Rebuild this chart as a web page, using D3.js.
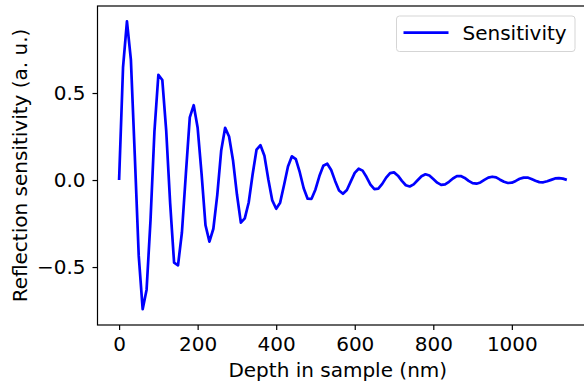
<!DOCTYPE html>
<html>
  <head>
    <meta charset="utf-8" />
    <script src="https://d3js.org/d3.v7.min.js"></script>
    <style>
      body {
        margin: 0;
        background: #fff;
        overflow: hidden;
      }
      text {
        font-family: "DejaVu Sans", sans-serif;
        fill: #000;
      }
    </style>
  </head>
  <body>
    <svg id="chart" width="584" height="383"></svg>

    <script>
      // depth samples (nm) and the sensitivity
      const depth = [
        0, 10, 20, 30, 40, 50, 60, 70, 80, 90, 100, 110, 120, 130, 140, 150,
        160, 170, 180, 190, 200, 210, 220, 230, 240, 250, 260, 270, 280, 290,
        300, 310, 320, 330, 340, 350, 360, 370, 380, 390, 400, 410, 420, 430,
        440, 450, 460, 470, 480, 490, 500, 510, 520, 530, 540, 550, 560, 570,
        580, 590, 600, 610, 620, 630, 640, 650, 660, 670, 680, 690, 700, 710,
        720, 730, 740, 750, 760, 770, 780, 790, 800, 810, 820, 830, 840, 850,
        860, 870, 880, 890, 900, 910, 920, 930, 940, 950, 960, 970, 980, 990,
        1000, 1010, 1020, 1030, 1040, 1050, 1060, 1070, 1080, 1090, 1100,
        1110, 1120, 1130, 1140,
      ];
      const sensitivity = [
        0, 0.647, 0.912, 0.692, 0.139, -0.436, -0.742, -0.63, -0.23, 0.28,
        0.605, 0.575, 0.282, -0.134, -0.475, -0.49, -0.3, 0.035, 0.36, 0.43,
        0.3, 0.036, -0.26, -0.354, -0.28, -0.085, 0.17, 0.3, 0.25, 0.114,
        -0.082, -0.245, -0.22, -0.129, 0.033, 0.175, 0.2, 0.14, 0.003, -0.117,
        -0.165, -0.13, -0.029, 0.078, 0.136, 0.12, 0.045, -0.047, -0.107,
        -0.108, -0.054, 0.023, 0.082, 0.094, 0.058, -0.005, -0.06, -0.079,
        -0.057, -0.008, 0.041, 0.065, 0.054, 0.017, -0.026, -0.052, -0.049,
        -0.022, 0.014, 0.04, 0.044, 0.025, -0.005, -0.03, -0.037, -0.025,
        -0.001, 0.022, 0.033, 0.026, 0.006, -0.015, -0.028, -0.025, -0.01,
        0.009, 0.022, 0.023, 0.012, -0.005, -0.018, -0.021, -0.014, 0.001,
        0.014, 0.019, 0.015, 0.002, -0.01, -0.017, -0.015, -0.005, 0.007,
        0.014, 0.014, 0.006, -0.004, -0.012, -0.013, -0.007, 0.001, 0.009,
        0.011, 0.008, 0.001,
      ];
      const xTicks = [0, 200, 400, 600, 800, 1000];
      const yTicks = [-0.5, 0.0, 0.5];

      const svg = d3.select("#chart");
      const box = { left: 97.5, top: 6, right: 590, bottom: 325 };

      const x = d3
        .scaleLinear()
        .domain([-55, 1199])
        .range([box.left, box.right]);
      const y = d3
        .scaleLinear()
        .domain([-0.833, 1.0])
        .range([box.bottom, box.top]);

      // axes
      const xAxis = d3
        .axisBottom(x)
        .tickValues(xTicks)
        .tickSize(5)
        .tickPadding(7)
        .tickFormat(d3.format("d"));
      const yAxis = d3
        .axisLeft(y)
        .tickValues(yTicks)
        .tickSize(5)
        .tickPadding(7)
        .tickFormat((d) => (d < 0 ? "\u2212" : "") + Math.abs(d).toFixed(1));

      const gx = svg
        .append("g")
        .attr("transform", `translate(0,${box.bottom})`)
        .call(xAxis);
      const gy = svg
        .append("g")
        .attr("transform", `translate(${box.left},0)`)
        .call(yAxis);
      [gx, gy].forEach((g) => {
        g.select(".domain").remove();
        g.selectAll("line").attr("stroke", "#000").attr("stroke-width", 1.2);
        g.selectAll("text")
          .attr("font-size", 20)
          .attr("font-family", "DejaVu Sans")
          .attr("fill", "#000");
      });

      // the data line
      const line = d3
        .line()
        .x((d, i) => x(depth[i]))
        .y((d) => y(d));
      svg
        .append("path")
        .datum(sensitivity)
        .attr("fill", "none")
        .attr("stroke", "#0000ff")
        .attr("stroke-width", 2.7)
        .attr("stroke-linejoin", "round")
        .attr("d", line);

      // frame
      svg
        .append("rect")
        .attr("x", box.left)
        .attr("y", box.top)
        .attr("width", box.right - box.left)
        .attr("height", box.bottom - box.top)
        .attr("fill", "none")
        .attr("stroke", "#000")
        .attr("stroke-width", 1.2);

      // labels
      svg
        .append("text")
        .attr("x", (box.left + box.right) / 2 - 6)
        .attr("y", 377)
        .attr("text-anchor", "middle")
        .attr("font-size", 20)
        .text("Depth in sample (nm)");
      svg
        .append("text")
        .attr("transform", `translate(27,${(box.top + box.bottom) / 2}) rotate(-90)`)
        .attr("text-anchor", "middle")
        .attr("font-size", 20)
        .text("Reflection sensitivity (a. u.)");

      // legend
      const lg = svg.append("g");
      lg.append("rect")
        .attr("x", 396.5)
        .attr("y", 16)
        .attr("width", 178.5)
        .attr("height", 35.5)
        .attr("rx", 3)
        .attr("fill", "#fff")
        .attr("fill-opacity", 0.8)
        .attr("stroke", "#d5d5d5")
        .attr("stroke-width", 1);
      lg.append("line")
        .attr("x1", 403.5)
        .attr("x2", 448.5)
        .attr("y1", 32.7)
        .attr("y2", 32.7)
        .attr("stroke", "#0000ff")
        .attr("stroke-width", 2.7);
      lg.append("text")
        .attr("x", 462.5)
        .attr("y", 40)
        .attr("font-size", 20)
        .text("Sensitivity");
    </script>
  </body>
</html>
